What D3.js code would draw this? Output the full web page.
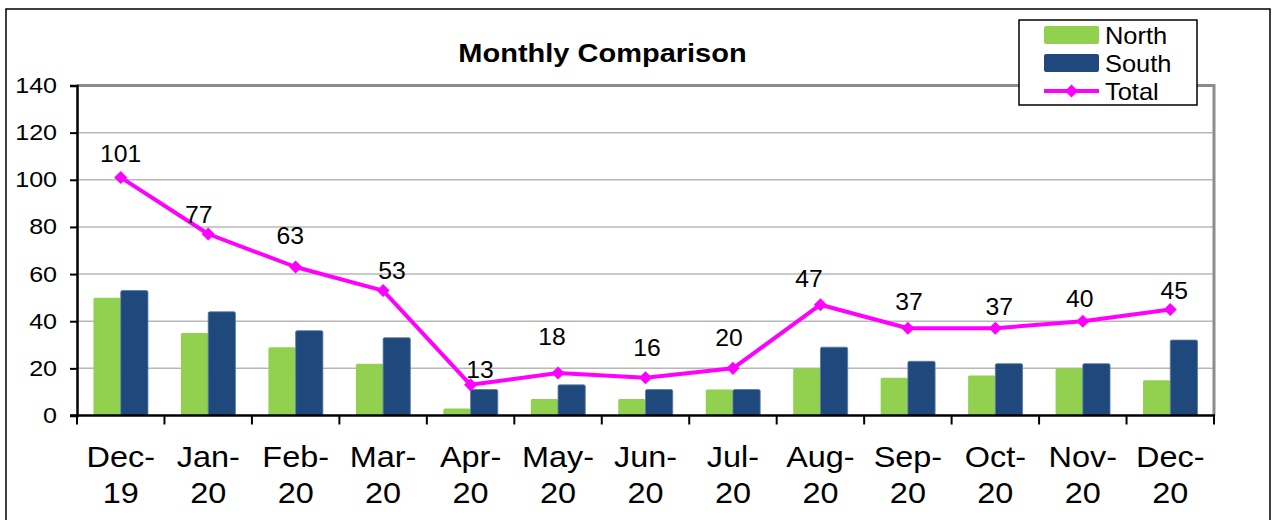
<!DOCTYPE html>
<html>
<head>
<meta charset="utf-8">
<script src="https://cdn.jsdelivr.net/npm/d3@7.9.0/dist/d3.min.js"></script>
<style>
  body { margin: 0; background: #fff; }
  svg { display: block; font-family: "Liberation Sans", Arial, sans-serif; }
</style>
</head>
<body>
<div id="chart"></div>
<script>
const months = ['Dec-19', 'Jan-20', 'Feb-20', 'Mar-20', 'Apr-20', 'May-20', 'Jun-20',
  'Jul-20', 'Aug-20', 'Sep-20', 'Oct-20', 'Nov-20', 'Dec-20'];
const north = [50, 35, 29, 22, 3, 7, 7, 11, 20, 16, 17, 20, 15];
const south = [53, 44, 36, 33, 11, 13, 11, 11, 29, 23, 22, 22, 32];
const total = [101, 77, 63, 53, 13, 18, 16, 20, 47, 37, 37, 40, 45];
const yTicks = [0, 20, 40, 60, 80, 100, 120, 140];
// hand-placed data label nudges [dx, dy] relative to the point, as in the original
const labelNudge = [[0, -15], [-9.5, -11.5], [-5.5, -23], [9, -11.5], [9.5, -7], [-6, -28], [1.5, -22],
  [-4, -22], [-11.5, -18], [1, -18], [4, -13], [-3, -14.5], [4, -10]];

const width = 1275;
const height = 520;
const colors = { North: '#92D050', South: '#1F497D', Total: '#FF00FF' };

const area = { left: 77, right: 1214, top: 85.5, bottom: 415.5 };

// the original text is rendered a little wide, so stretch it horizontally
function place(sel, fx, fy, sx) {
  sel.attr('transform', (d, i) => `translate(${fx(d, i)},${fy(d, i)}) scale(${sx},1)`);
}

const svg = d3.select('#chart')
  .append('svg')
  .attr('width', width)
  .attr('height', height);

svg.append('rect')
  .attr('width', width).attr('height', height)
  .attr('fill', '#fff');

// outer chart frame
svg.append('rect')
  .attr('x', 6).attr('y', 9)
  .attr('width', 1264).attr('height', 530)
  .attr('fill', 'none')
  .attr('stroke', '#000')
  .attr('stroke-width', 1.5);

const x = d3.scaleBand()
  .domain(months)
  .range([area.left, area.right]);

const xInner = d3.scaleBand()
  .domain(['North', 'South'])
  .range([16.5, x.bandwidth() - 16.5]);

const y = d3.scaleLinear()
  .domain([0, 140])
  .range([area.bottom, area.top]);

const cx = (m) => x(m) + x.bandwidth() / 2;

// gridlines
svg.append('g')
  .selectAll('line')
  .data(yTicks.filter((d) => d > 0 && d < 140))
  .join('line')
  .attr('x1', area.left).attr('x2', area.right)
  .attr('y1', (d) => y(d)).attr('y2', (d) => y(d))
  .attr('stroke', '#b8b8b8')
  .attr('stroke-width', 1.5);

// plot area border (top and right)
svg.append('path')
  .attr('d', `M${area.left},${y(140)}H${area.right}V${area.bottom}`)
  .attr('fill', 'none')
  .attr('stroke', '#8c8c8c')
  .attr('stroke-width', 3);

// bars
const groups = svg.append('g')
  .selectAll('g')
  .data(months.map((m, i) => ({ month: m, North: north[i], South: south[i] })))
  .join('g')
  .attr('transform', (d) => `translate(${x(d.month)},0)`);

groups.selectAll('rect')
  .data((d) => ['North', 'South'].map((k) => ({ key: k, value: d[k] })))
  .join('rect')
  .attr('x', (d) => xInner(d.key))
  .attr('y', (d) => y(d.value))
  .attr('width', xInner.bandwidth())
  .attr('height', (d) => y(0) - y(d.value))
  .attr('rx', 1.5)
  .attr('fill', (d) => colors[d.key])
  .attr('stroke', (d) => d.key === 'South' ? '#5a7ba3' : 'none')
  .attr('stroke-width', 0.8);

// y axis
const yAxis = svg.append('g')
  .attr('transform', `translate(${area.left},0)`)
  .call(d3.axisLeft(y).tickValues(yTicks).tickSize(7).tickPadding(13));
yAxis.select('.domain').attr('stroke-width', 2.5);
yAxis.selectAll('.tick line').attr('stroke-width', 2);
yAxis.selectAll('.tick text')
  .attr('font-size', 22)
  .attr('font-family', '"Liberation Sans", Arial, sans-serif')
  .attr('fill', '#000')
  .attr('x', -20 / 1.14)
  .attr('transform', 'scale(1.14,1)');

// x axis line and ticks at band boundaries
svg.append('line')
  .attr('x1', area.left - 7).attr('x2', area.right + 1)
  .attr('y1', area.bottom).attr('y2', area.bottom)
  .attr('stroke', '#000').attr('stroke-width', 2.5);

const boundaries = months.map((m) => x(m)).concat([x(months[months.length - 1]) + x.bandwidth()]);
svg.append('g')
  .selectAll('line')
  .data(boundaries)
  .join('line')
  .attr('x1', (d) => d).attr('x2', (d) => d)
  .attr('y1', area.bottom).attr('y2', area.bottom + 9)
  .attr('stroke', '#000').attr('stroke-width', 2);

// two-line month labels
[[467, (d) => d.split('-')[0] + '-'], [503, (d) => d.split('-')[1]]].forEach(([base, txt]) => {
  svg.append('g')
    .selectAll('text')
    .data(months)
    .join('text')
    .attr('text-anchor', 'middle')
    .attr('font-size', 30)
    .attr('fill', '#000')
    .call(place, (d) => cx(d), () => base, 1.08)
    .text(txt);
});

// total line
const pts = months.map((m, i) => ({ month: m, value: total[i], nudge: labelNudge[i] }));
const line = d3.line()
  .x((d) => cx(d.month))
  .y((d) => y(d.value));

svg.append('path')
  .datum(pts)
  .attr('d', line)
  .attr('fill', 'none')
  .attr('stroke', colors.Total)
  .attr('stroke-width', 4)
  .attr('stroke-linejoin', 'round');

const diamond = d3.symbol().type(d3.symbolSquare).size(85);

svg.append('g')
  .selectAll('path')
  .data(pts)
  .join('path')
  .attr('d', diamond)
  .attr('transform', (d) => `translate(${cx(d.month)},${y(d.value)}) rotate(45)`)
  .attr('fill', colors.Total);

svg.append('g')
  .selectAll('text')
  .data(pts)
  .join('text')
  .attr('text-anchor', 'middle')
  .attr('font-size', 24)
  .attr('fill', '#000')
  .call(place, (d) => cx(d.month) + d.nudge[0], (d) => y(d.value) + d.nudge[1], 1.03)
  .text((d) => d.value);

// title
svg.append('text')
  .attr('text-anchor', 'middle')
  .attr('font-size', 25)
  .attr('font-weight', 'bold')
  .attr('fill', '#000')
  .call(place, () => 602.5, () => 62, 1.16)
  .text('Monthly Comparison');

// legend
const legend = svg.append('g').attr('transform', 'translate(1019,20)');
legend.append('rect')
  .attr('width', 178).attr('height', 85)
  .attr('fill', '#fff')
  .attr('stroke', '#000')
  .attr('stroke-width', 1.5);

const legendItems = ['North', 'South', 'Total'];
const ly = d3.scalePoint().domain(legendItems).range([15, 71]);

legend.selectAll('rect.swatch')
  .data(legendItems.slice(0, 2))
  .join('rect')
  .attr('class', 'swatch')
  .attr('x', 25).attr('y', (d) => ly(d) - 9)
  .attr('width', 55).attr('height', 18)
  .attr('rx', 2)
  .attr('fill', (d) => colors[d]);

legend.append('line')
  .attr('x1', 25).attr('x2', 80)
  .attr('y1', ly('Total')).attr('y2', ly('Total'))
  .attr('stroke', colors.Total).attr('stroke-width', 4);
legend.append('path')
  .attr('d', diamond)
  .attr('transform', `translate(52.5,${ly('Total')}) rotate(45)`)
  .attr('fill', colors.Total);

legend.selectAll('text')
  .data(legendItems)
  .join('text')
  .attr('font-size', 24)
  .attr('fill', '#000')
  .call(place, () => 86, (d) => ly(d) + 8.5, 1.06)
  .text((d) => d);
</script>
</body>
</html>
